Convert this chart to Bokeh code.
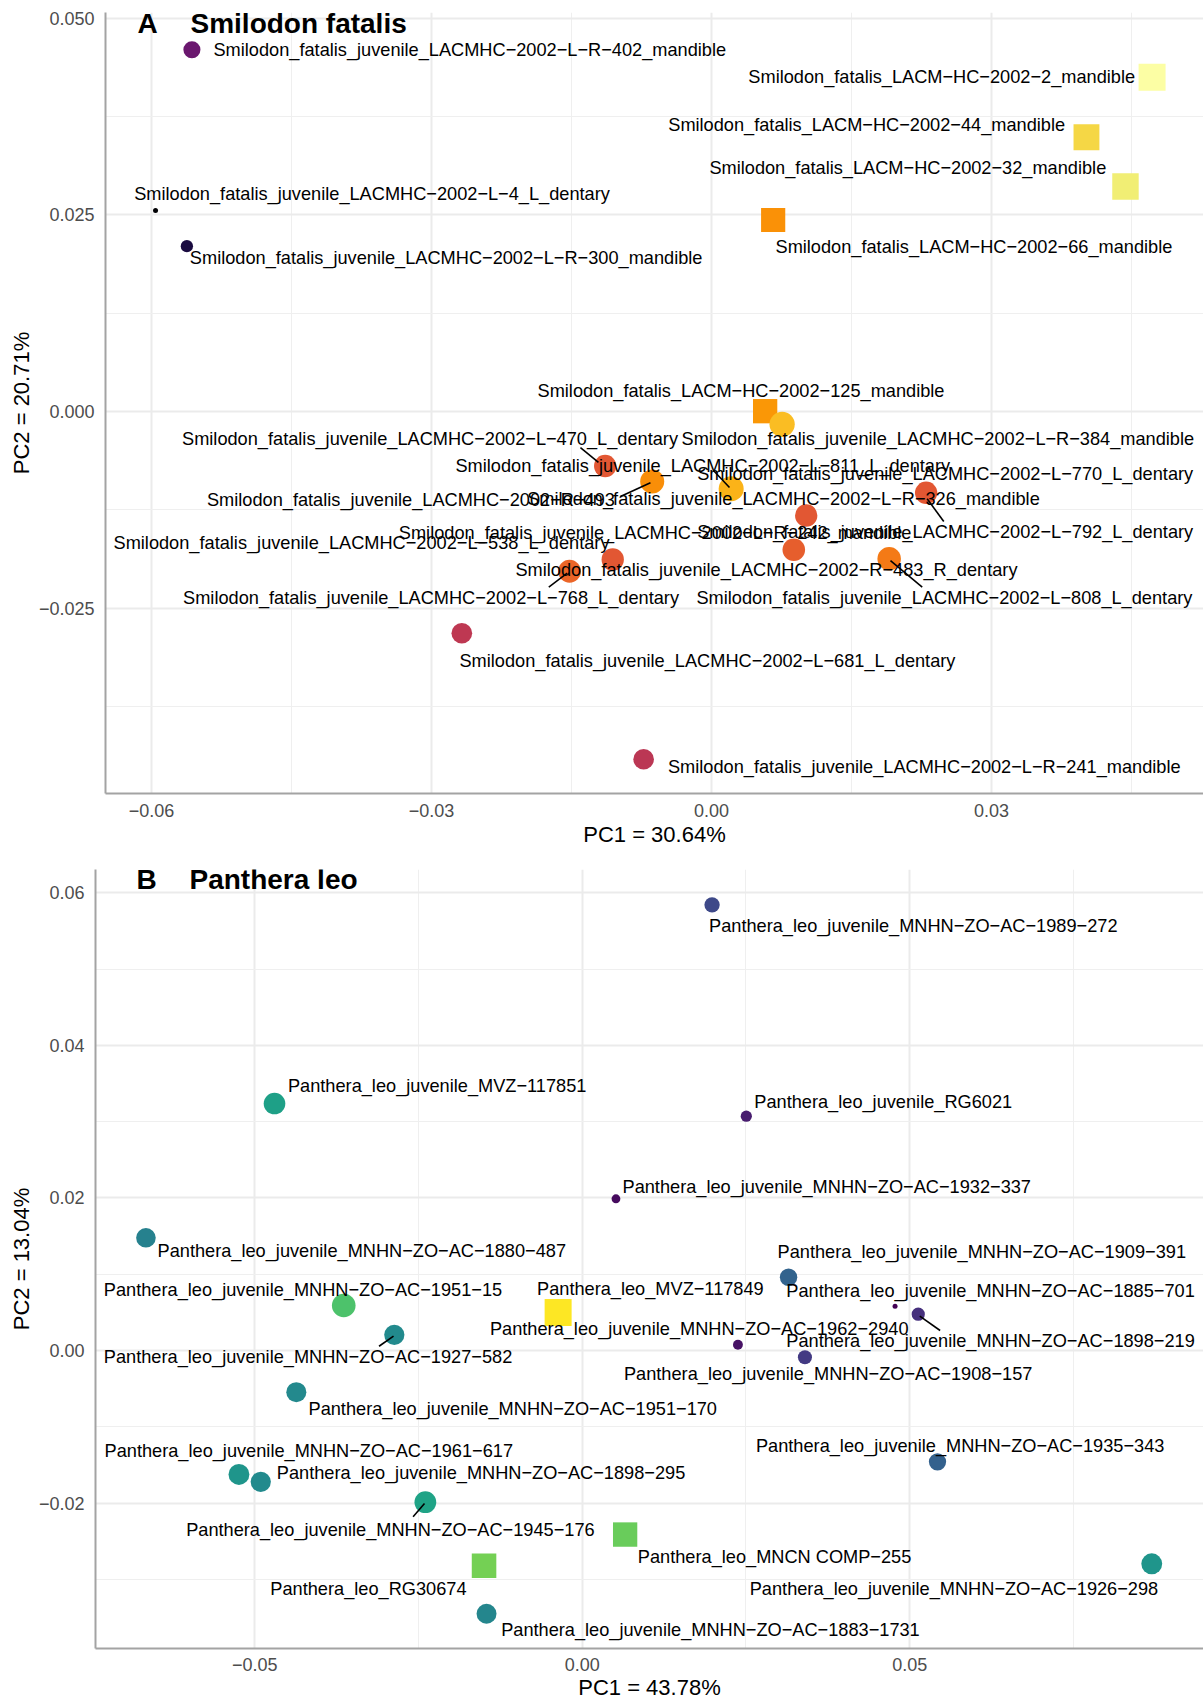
import math
from bokeh.plotting import figure
from bokeh.models import ColumnDataSource, FixedTicker, CustomJSTickFormatter, LinearColorMapper, Range1d
from bokeh.layouts import column
from bokeh.palettes import Inferno256, Viridis256
from bokeh.transform import transform
from bokeh.core.properties import value
from bokeh.embed import file_html
from bokeh.resources import INLINE

FONT = "Liberation Sans"
MINUS = "\u2212"

# ---------------- Panel A: Smilodon fatalis ----------------
a_specimens = [
    "LACMHC-2002-L-R-402", "LACMHC-2002-L-4", "LACMHC-2002-L-R-300", "LACM-HC-2002-2",
    "LACM-HC-2002-44", "LACM-HC-2002-32", "LACM-HC-2002-66", "LACM-HC-2002-125",
    "LACMHC-2002-L-R-384", "LACMHC-2002-L-470", "LACMHC-2002-R-493", "LACMHC-2002-L-811",
    "LACMHC-2002-L-792", "LACMHC-2002-L-R-242", "LACMHC-2002-R-483", "LACMHC-2002-L-808",
    "LACMHC-2002-L-538", "LACMHC-2002-L-768", "LACMHC-2002-L-681", "LACMHC-2002-L-R-241",
]
a_pc1 = [-0.05567, -0.05957, -0.05621, 0.04721, 0.04018, 0.04436, 0.00661, 0.00575,
         0.00757, -0.01139, -0.00635, 0.00211, 0.02300, 0.01015, 0.00882, 0.01904,
         -0.01058, -0.01521, -0.02675, -0.00727]
a_pc2 = [0.04597, 0.02555, 0.02101, 0.04249, 0.03486, 0.02860, 0.02434, 0.00004,
         -0.00163, -0.00693, -0.00890, -0.00982, -0.01033, -0.01322, -0.01758, -0.01872,
         -0.01881, -0.02030, -0.02818, -0.04419]
a_csize = [0.30, 0.00, 0.11, 1.00, 0.90, 0.95, 0.76, 0.77,
           0.85, 0.62, 0.75, 0.83, 0.62, 0.62, 0.64, 0.71,
           0.62, 0.66, 0.51, 0.50]
a_adult = [False, False, False, True, True, True, True, True,
           False, False, False, False, False, False, False, False,
           False, False, False, False]

a_label_text = [
    "Smilodon_fatalis_juvenile_LACMHC-2002-L-R-402_mandible",
    "Smilodon_fatalis_juvenile_LACMHC-2002-L-4_L_dentary",
    "Smilodon_fatalis_juvenile_LACMHC-2002-L-R-300_mandible",
    "Smilodon_fatalis_LACM-HC-2002-2_mandible",
    "Smilodon_fatalis_LACM-HC-2002-44_mandible",
    "Smilodon_fatalis_LACM-HC-2002-32_mandible",
    "Smilodon_fatalis_LACM-HC-2002-66_mandible",
    "Smilodon_fatalis_LACM-HC-2002-125_mandible",
    "Smilodon_fatalis_juvenile_LACMHC-2002-L-R-384_mandible",
    "Smilodon_fatalis_juvenile_LACMHC-2002-L-470_L_dentary",
    "Smilodon_fatalis_juvenile_LACMHC-2002-R-493",
    "Smilodon_fatalis_juvenile_LACMHC-2002-L-811_L_dentary",
    "Smilodon_fatalis_juvenile_LACMHC-2002-L-770_L_dentary",
    "Smilodon_fatalis_juvenile_LACMHC-2002-L-R-326_mandible",
    "Smilodon_fatalis_juvenile_LACMHC-2002-L-R-242_mandible",
    "Smilodon_fatalis_juvenile_LACMHC-2002-L-792_L_dentary",
    "Smilodon_fatalis_juvenile_LACMHC-2002-L-538_L_dentary",
    "Smilodon_fatalis_juvenile_LACMHC-2002-R-483_R_dentary",
    "Smilodon_fatalis_juvenile_LACMHC-2002-L-768_L_dentary",
    "Smilodon_fatalis_juvenile_LACMHC-2002-L-808_L_dentary",
    "Smilodon_fatalis_juvenile_LACMHC-2002-L-681_L_dentary",
    "Smilodon_fatalis_juvenile_LACMHC-2002-L-R-241_mandible",
]
a_label_x = [-0.05336, -0.06186, -0.05589, 0.04539, 0.03789, 0.04230, 0.00686, -0.01864,
             -0.00321, -0.05673, -0.05406, -0.02743, -0.00153, -0.01975, -0.03350, -0.00153,
             -0.06407, -0.02100, -0.05662, -0.00161, -0.02700, -0.00466]
a_label_y = [0.04597, 0.02758, 0.01948, 0.04249, 0.03644, 0.03092, 0.02097, 0.00258,
             -0.00352, -0.00352, -0.01131, -0.00699, -0.00792, -0.01110, -0.01538, -0.01534,
             -0.01674, -0.02012, -0.02368, -0.02368, -0.03165, -0.04512]
a_label_right = [False, False, False, True, True, True, False, False,
                 False, False, False, False, False, False, False, False,
                 False, False, False, False, False, False]
a_seg_x0 = [-0.01404, -0.00975, 0.00021, 0.02311, 0.01918, -0.01743]
a_seg_y0 = [-0.00458, -0.01080, -0.00750, -0.01110, -0.01894, -0.02233]
a_seg_x1 = [-0.01211, -0.00654, 0.00193, 0.02489, 0.02258, -0.01546]
a_seg_y1 = [-0.00648, -0.00906, -0.00966, -0.01398, -0.02233, -0.02055]

a_xticks = [-0.06, -0.03, 0.0, 0.03]
a_xtick_labels = [MINUS + "0.06", MINUS + "0.03", "0.00", "0.03"]
a_xminor = [-0.045, -0.015, 0.015, 0.045]
a_yticks = [-0.025, 0.0, 0.025, 0.05]
a_ytick_labels = [MINUS + "0.025", "0.000", "0.025", "0.050"]
a_yminor = [-0.0375, -0.0125, 0.0125, 0.0375]

# ---------------- Panel B: Panthera leo ----------------
b_label_text = [
    "Panthera_leo_juvenile_MNHN-ZO-AC-1989-272",
    "Panthera_leo_juvenile_MVZ-117851",
    "Panthera_leo_juvenile_RG6021",
    "Panthera_leo_juvenile_MNHN-ZO-AC-1932-337",
    "Panthera_leo_juvenile_MNHN-ZO-AC-1880-487",
    "Panthera_leo_juvenile_MNHN-ZO-AC-1909-391",
    "Panthera_leo_juvenile_MNHN-ZO-AC-1951-15",
    "Panthera_leo_MVZ-117849",
    "Panthera_leo_juvenile_MNHN-ZO-AC-1885-701",
    "Panthera_leo_juvenile_MNHN-ZO-AC-1962-2940",
    "Panthera_leo_juvenile_MNHN-ZO-AC-1898-219",
    "Panthera_leo_juvenile_MNHN-ZO-AC-1927-582",
    "Panthera_leo_juvenile_MNHN-ZO-AC-1908-157",
    "Panthera_leo_juvenile_MNHN-ZO-AC-1951-170",
    "Panthera_leo_juvenile_MNHN-ZO-AC-1935-343",
    "Panthera_leo_juvenile_MNHN-ZO-AC-1961-617",
    "Panthera_leo_juvenile_MNHN-ZO-AC-1898-295",
    "Panthera_leo_juvenile_MNHN-ZO-AC-1945-176",
    "Panthera_leo_MNCN COMP-255",
    "Panthera_leo_RG30674",
    "Panthera_leo_juvenile_MNHN-ZO-AC-1926-298",
    "Panthera_leo_juvenile_MNHN-ZO-AC-1883-1731",
]
b_specimens = list(b_label_text)
b_pc1 = [0.01982, -0.04698, 0.02505, 0.00515, -0.06661, 0.03150, -0.03641, -0.00368,
         0.04776, 0.02377, 0.05130, -0.02869, 0.03400, -0.04365, 0.05424, -0.05241,
         -0.04908, -0.02395, 0.00655, -0.01499, 0.08695, -0.01461]
b_pc2 = [0.05845, 0.03239, 0.03073, 0.01990, 0.01478, 0.00961, 0.00590, 0.00498,
         0.00581, 0.00075, 0.00476, 0.00206, -0.00088, -0.00547, -0.01460, -0.01626,
         -0.01722, -0.01990, -0.02413, -0.02824, -0.02797, -0.03453]
b_csize = [0.22, 0.57, 0.08, 0.03, 0.44, 0.32, 0.72, 1.00,
           0.00, 0.05, 0.14, 0.48, 0.17, 0.47, 0.31, 0.52,
           0.48, 0.58, 0.77, 0.79, 0.52, 0.46]
b_adult = [False, False, False, False, False, False, False, True,
           False, False, False, False, False, False, False, False,
           False, False, True, True, False, False]
b_label_x = [0.01936, -0.04493, 0.02627, 0.00615, -0.06484, 0.02982, -0.07304, -0.00690,
             0.03116, -0.01409, 0.03116, -0.07304, 0.00637, -0.04179, 0.02652, -0.07293,
             -0.04663, -0.06047, 0.00849, -0.04762, 0.02557, -0.01238]
b_label_y = [0.05565, 0.03475, 0.03262, 0.02142, 0.01302, 0.01294, 0.00787, 0.00809,
             0.00778, 0.00285, 0.00122, -0.00083, -0.00306, -0.00761, -0.01255, -0.01321,
             -0.01604, -0.02357, -0.02711, -0.03125, -0.03134, -0.03659]
b_label_right = [False] * 22
b_seg_x0 = [-0.03102, 0.05153, -0.02582]
b_seg_y0 = [0.00056, 0.00450, -0.02181]
b_seg_x1 = [-0.02881, 0.05464, -0.02408]
b_seg_y1 = [0.00188, 0.00262, -0.02007]

b_xticks = [-0.05, 0.0, 0.05]
b_xtick_labels = [MINUS + "0.05", "0.00", "0.05"]
b_xminor = [-0.075, -0.025, 0.025, 0.075]
b_yticks = [-0.02, 0.0, 0.02, 0.04, 0.06]
b_ytick_labels = [MINUS + "0.02", "0.00", "0.02", "0.04", "0.06"]
b_yminor = [-0.03, -0.01, 0.01, 0.03, 0.05]

FMT_CODE = """
const i = tv.findIndex(t => Math.abs(t - tick) < 1e-9);
return i >= 0 ? tl[i] : "";
"""


def style_axis(ax, ticks, labels, minor, title, standoff, title_standoff):
    ax.ticker = FixedTicker(ticks=ticks, minor_ticks=minor)
    ax.formatter = CustomJSTickFormatter(args=dict(tv=ticks, tl=labels), code=FMT_CODE)
    ax.axis_line_color = "#a3a3a3"
    ax.axis_line_width = 2
    ax.major_tick_line_color = None
    ax.minor_tick_line_color = None
    ax.major_tick_out = 0
    ax.major_tick_in = 0
    ax.major_label_text_font = FONT
    ax.major_label_text_font_size = "18px"
    ax.major_label_text_color = "#4d4d4d"
    ax.major_label_standoff = standoff
    ax.axis_label = title
    ax.axis_label_text_font = FONT
    ax.axis_label_text_font_size = "22px"
    ax.axis_label_text_font_style = "normal"
    ax.axis_label_text_color = "black"
    ax.axis_label_standoff = title_standoff


def build(letter, species, pc1, pc2, csize, adult, lab_text, lab_x, lab_y, lab_right,
          segs, xt, xtl, xmt, yt, ytl, ymt, xlabel, ylabel, palette,
          xr, yr, width, height, borders, title_off, xstand, ystand):
    left, top, bottom = borders
    p = figure(width=width, height=height, x_range=Range1d(*xr), y_range=Range1d(*yr),
               output_backend="svg", toolbar_location=None, frame_align=False,
               min_border_left=left, min_border_right=0, min_border_top=top,
               min_border_bottom=bottom)
    p.outline_line_color = None
    p.background_fill_color = "white"
    p.border_fill_color = "white"

    style_axis(p.xaxis[0], xt, xtl, xmt, xlabel, *xstand)
    style_axis(p.yaxis[0], yt, ytl, ymt, ylabel, *ystand)
    for g in (p.xgrid[0], p.ygrid[0]):
        g.grid_line_color = "#ebebeb"
        g.grid_line_width = 2
        g.minor_grid_line_color = "#efefef"
        g.minor_grid_line_width = 1

    mapper = LinearColorMapper(palette=palette, low=0.0, high=1.0)
    src = ColumnDataSource(dict(
        x=pc1, y=pc2, c=csize,
        size=[5 + 22 * math.sqrt(v) for v in csize],
        marker=["square" if a else "circle" for a in adult],
    ))
    p.scatter(x="x", y="y", size="size", marker="marker", source=src,
              fill_color=transform("c", mapper), line_color=None)

    x0, y0, x1, y1 = segs
    p.segment(x0=x0, y0=y0, x1=x1, y1=y1, line_color="black", line_width=1.6)

    for right in (False, True):
        idx = [i for i in range(len(lab_text)) if lab_right[i] == right]
        if not idx:
            continue
        p.text(x=[lab_x[i] for i in idx], y=[lab_y[i] for i in idx],
               text=[lab_text[i].replace("-", MINUS) for i in idx],
               text_font=value(FONT), text_font_size="18.2px", text_color="black",
               text_align="right" if right else "left", text_baseline="middle")

    # panel title, placed relative to the frame's top-left corner
    fw = width - left
    fh = height - top - bottom
    ppx = fw / (xr[1] - xr[0])
    ppy = fh / (yr[1] - yr[0])
    lx, sx, mid = title_off
    p.text(x=[xr[0] + lx / ppx, xr[0] + sx / ppx], y=[yr[1] - mid / ppy] * 2,
           text=[letter, species], text_font=value(FONT), text_font_size="28px",
           text_font_style="bold", text_color="black",
           text_align="left", text_baseline="middle")
    return p


pA = build("A", "Smilodon fatalis", a_pc1, a_pc2, a_csize, a_adult,
           a_label_text, a_label_x, a_label_y, a_label_right,
           (a_seg_x0, a_seg_y0, a_seg_x1, a_seg_y1),
           a_xticks, a_xtick_labels, a_xminor, a_yticks, a_ytick_labels, a_yminor,
           "PC1 = 30.64%", "PC2 = 20.71%", Inferno256,
           (-0.06493, 0.05272), (-0.04855, 0.05071), 1203, 851, (105, 12, 58),
           (32, 85, 11), (6, 2), (7, 2))

pB = build("B", "Panthera leo", b_pc1, b_pc2, b_csize, b_adult,
           b_label_text, b_label_x, b_label_y, b_label_right,
           (b_seg_x0, b_seg_y0, b_seg_x1, b_seg_y1),
           b_xticks, b_xtick_labels, b_xminor, b_yticks, b_ytick_labels, b_yminor,
           "PC1 = 43.78%", "PC2 = 13.04%", Viridis256,
           (-0.07431, 0.09485), (-0.03908, 0.06308), 1203, 853, (95, 18, 56),
           (41, 94, 10), (5, 1), (7, 2))

layout = column(pA, pB)
open("out.html", "w").write(file_html(layout, INLINE))
